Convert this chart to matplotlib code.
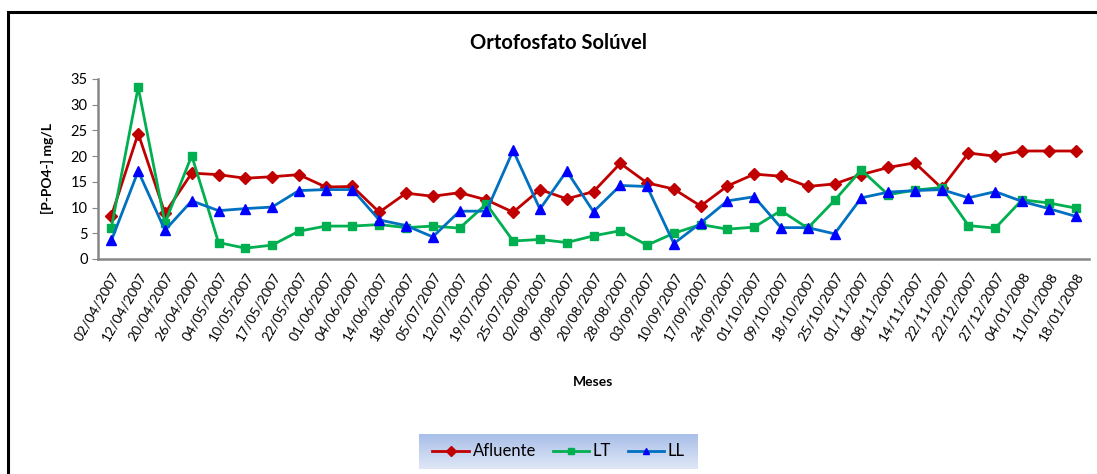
import numpy as np
import matplotlib
matplotlib.use('Agg')
import matplotlib.pyplot as plt
from matplotlib.lines import Line2D
from matplotlib.patches import Rectangle

plt.rcParams['font.family'] = ['Lato', 'DejaVu Sans']

# datas de coleta
datas = ['02/04/2007', '12/04/2007', '20/04/2007', '26/04/2007', '04/05/2007',
         '10/05/2007', '17/05/2007', '22/05/2007', '01/06/2007', '04/06/2007',
         '14/06/2007', '18/06/2007', '05/07/2007', '12/07/2007', '19/07/2007',
         '25/07/2007', '02/08/2007', '09/08/2007', '20/08/2007', '28/08/2007',
         '03/09/2007', '10/09/2007', '17/09/2007', '24/09/2007', '01/10/2007',
         '09/10/2007', '18/10/2007', '25/10/2007', '01/11/2007', '08/11/2007',
         '14/11/2007', '22/11/2007', '22/12/2007', '27/12/2007', '04/01/2008',
         '11/01/2008', '18/01/2008']

afluente = [8.4, 24.4, 8.9, 16.7, 16.4, 15.7, 16.0, 16.4, 14.0, 14.1,
            9.1, 12.8, 12.2, 12.9, 11.5, 9.1, 13.5, 11.7, 13.1, 18.6,
            14.8, 13.6, 10.3, 14.2, 16.5, 16.1, 14.1, 14.6, 16.4, 17.8,
            18.7, 13.8, 20.6, 20.0, 21.0, 21.0, 21.0]

lt = [6.1, 33.4, 7.0, 20.1, 3.2, 2.1, 2.7, 5.4, 6.4, 6.4,
      6.7, 6.1, 6.4, 6.0, 10.7, 3.5, 3.8, 3.2, 4.5, 5.5,
      2.7, 5.0, 6.7, 5.8, 6.2, 9.4, 6.0, 11.4, 17.3, 12.5,
      13.4, 13.9, 6.5, 6.0, 11.5, 10.9, 9.9]

ll = [3.6, 17.1, 5.6, 11.3, 9.4, 9.8, 10.1, 13.3, 13.5, 13.5,
      7.6, 6.5, 4.3, 9.3, 9.3, 21.1, 9.7, 17.1, 9.2, 14.3,
      14.1, 3.0, 7.0, 11.3, 12.1, 6.1, 6.1, 4.9, 11.9, 13.0,
      13.3, 13.5, 11.9, 13.1, 11.2, 9.8, 8.3]

fig = plt.figure(figsize=(10.97, 4.74), dpi=100)

# moldura do gráfico (só topo e esquerda aparecem)
fig.patches.append(Rectangle((8 / 1097, -0.1), 1.2, 1 - 12 / 474 + 0.1,
                             transform=fig.transFigure, fill=False,
                             edgecolor='black', linewidth=2.2))

ax = fig.add_axes([98 / 1097, 1 - 259 / 474, (1089 - 98) / 1097, 180 / 474])
x = np.arange(len(datas))

ax.plot(x, afluente, color='#c00000', lw=2, marker='D', ms=6,
        markerfacecolor='#c00000', markeredgecolor='#c00000', label='Afluente')
ax.plot(x, lt, color='#00b050', lw=2, marker='s', ms=6,
        markerfacecolor='#00b050', markeredgecolor='#00b050', label='LT')
ax.plot(x, ll, color='#0070c0', lw=2, marker='^', ms=7,
        markerfacecolor='#0000ff', markeredgecolor='#0000ff', label='LL')

ax.set_xlim(-0.5, len(datas) - 0.5)
ax.set_ylim(0, 35)
ax.set_yticks(np.arange(0, 36, 5))
ax.set_xticks(x)
ax.set_xticklabels(datas, rotation=60, ha='right', rotation_mode='anchor',
                   fontsize=10)
ax.tick_params(axis='x', length=0, pad=8)
ax.tick_params(axis='y', length=4, color='#868686', labelsize=10.5)
for s in ['top', 'right']:
    ax.spines[s].set_visible(False)
for s in ['left', 'bottom']:
    ax.spines[s].set_color('#868686')
    ax.spines[s].set_linewidth(1.8)

ax.set_ylabel('[P-PO4-] mg/L', fontsize=10, fontweight='bold', labelpad=12)
fig.text(593 / 1097, 1 - 382 / 474, 'Meses', ha='center', va='center',
         fontsize=10, fontweight='bold')
fig.text(558 / 1097, 1 - 43 / 474, 'Ortofosfato Solúvel', ha='center',
         va='center', fontsize=14.5, fontweight='bold')

# legenda com fundo em degradê
lax = fig.add_axes([419 / 1097, 1 - 469 / 474, (698 - 419) / 1097, 35 / 474])
grad = np.linspace(0, 1, 50).reshape(-1, 1)
cmap = matplotlib.colors.LinearSegmentedColormap.from_list('g', ['#a9bfe9', '#dfe7f6'])
lax.imshow(grad, aspect='auto', cmap=cmap, extent=[0, 1, 0, 1], origin='upper')
lax.set_xlim(0, 1)
lax.set_ylim(0, 1)
lax.axis('off')
handles = [
    Line2D([], [], color='#c00000', lw=2, marker='D', ms=5, markerfacecolor='#c00000', markeredgecolor='#c00000'),
    Line2D([], [], color='#00b050', lw=2, marker='s', ms=5, markerfacecolor='#00b050', markeredgecolor='#00b050'),
    Line2D([], [], color='#0070c0', lw=2, marker='^', ms=5, markerfacecolor='#0000ff', markeredgecolor='#0000ff'),
]
lax.legend(handles, ['Afluente', 'LT', 'LL'], loc='center', ncol=3, frameon=False,
           fontsize=12, handlelength=2.2, handletextpad=0.2, columnspacing=1.0,
           borderaxespad=0)

fig.savefig('out.png', dpi=100)
